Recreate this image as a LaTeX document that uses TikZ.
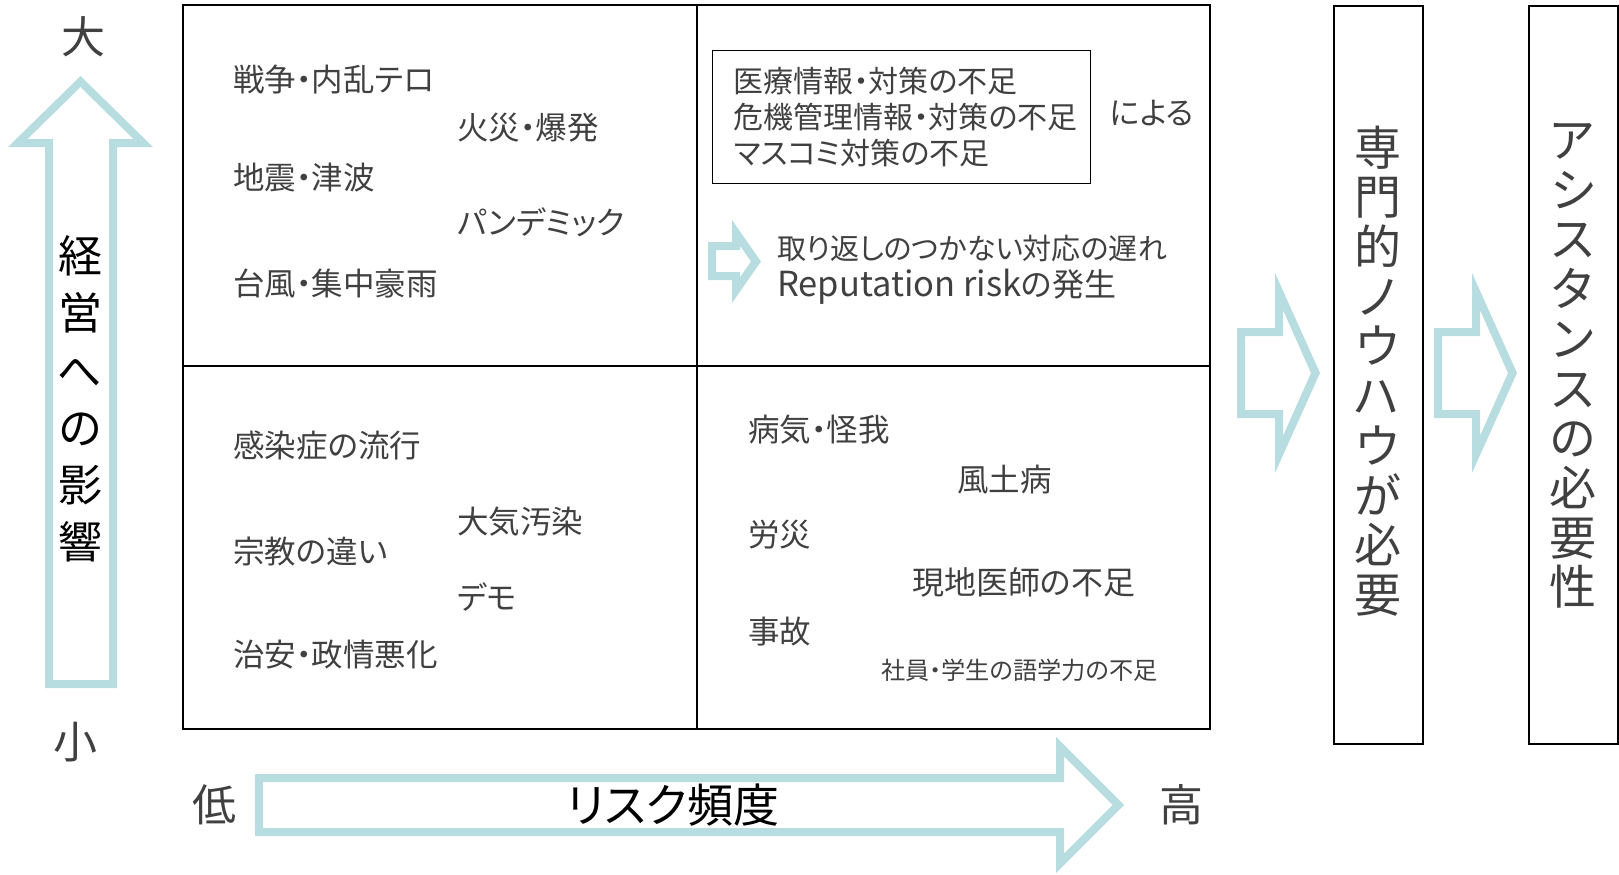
\documentclass[tikz,border=0pt]{standalone}
\usepackage{fontspec}
\setmainfont{Noto Sans CJK JP}[RawFeature=+palt]
\definecolor{txtgray}{HTML}{404040}
\definecolor{arrowblue}{HTML}{B7DDE0}
\begin{document}
\begin{tikzpicture}[x=1pt,y=-1pt,
  every node/.style={inner sep=0pt},
  item/.style={anchor=west,text=txtgray,font=\fontsize{31.5}{36}\selectfont},
  smallitem/.style={anchor=west,text=txtgray,font=\fontsize{24.2}{28}\selectfont},
  axislbl/.style={text=txtgray,font=\fontsize{44}{50}\selectfont},
  blockarrow/.style={fill=arrowblue,even odd rule},
  gridline/.style={line width=2.5pt},
  vstack/.style={align=center,text=txtgray,font=\fontsize{47}{49.7}\selectfont},
  tallbox/.style={draw,line width=1.8pt,minimum width=89pt,minimum height=738pt,anchor=north west}]
\useasboundingbox (0,0) rectangle (1619,875);

% vertical axis: impact on the business (outline arrow = outer minus inner outline)
\node[axislbl] (big) at (83,37) {大};
\node[axislbl] (small) at (75,742) {小};
\fill[blockarrow]
  (45,688) -- (45,147) -- (8,147) -- (80.5,76) -- (153,147) -- (117,147) -- (117,688) -- cycle
  (53,680) -- (53,139) -- (27.6,139) -- (80.5,87) -- (133.4,139) -- (109,139) -- (109,680) -- cycle;
\node[align=center,text=black,font=\fontsize{44}{57.2}\selectfont] (impact) at (80,399)
  {経\\営\\へ\\の\\影\\響};

% horizontal axis: risk frequency
\node[axislbl] (low) at (214,805) {低};
\node[axislbl] (high) at (1181,805) {高};
\fill[blockarrow]
  (255,774) -- (1056,774) -- (1056,737) -- (1124,805) -- (1056,873) -- (1056,836) -- (255,836) -- cycle
  (263,782) -- (1064,782) -- (1064,756.4) -- (1112.6,805) -- (1064,853.6) -- (1064,828) -- (263,828) -- cycle;
\node[text=black,font=\fontsize{46}{50}\selectfont] (freq) at (673,805) {リスク頻度};

% four-quadrant grid
\draw[gridline] (183,5) rectangle (1210,729);
\draw[gridline] (697,5) -- (697,729);
\draw[gridline] (183,366) -- (1210,366);

% upper left: high impact, low frequency
\node[item] (war) at (233,80) {戦争・内乱テロ};
\node[item] (fire) at (457,128) {火災・爆発};
\node[item] (quake) at (233,178) {地震・津波};
\node[item] (pandemic) at (457,222) {パンデミック};
\node[item] (storm) at (233,283) {台風・集中豪雨};

% lower left
\node[item] (infect) at (233,445) {感染症の流行};
\node[item] (air) at (457,522) {大気汚染};
\node[item] (religion) at (233,552) {宗教の違い};
\node[item] (demo) at (457,597) {デモ};
\node[item] (security) at (233,655) {治安・政情悪化};

% upper right
\node[draw,line width=1.4pt,anchor=north west,inner xsep=21pt,inner ysep=0pt,
  minimum height=133pt,text width=336pt,align=left,text=txtgray,
  font=\fontsize{30}{36}\selectfont] (cause) at (712,50)
  {医療情報・対策の不足\\危機管理情報・対策の不足\\マスコミ対策の不足};
\node[item,font=\fontsize{31}{36}\selectfont] (by) at (1110,113) {による};
\fill[blockarrow]
  (708,242) -- (732,242) -- (732,220) -- (761,261.5) -- (732,303) -- (732,280) -- (708,280) -- cycle
  (716,250) -- (740,250) -- (740,245.7) -- (751,261.5) -- (740,277.3) -- (740,272) -- (716,272) -- cycle;
\node[item,font=\fontsize{29}{32}\selectfont] (delay) at (777,248) {取り返しのつかない対応の遅れ};
\node[item,font=\fontsize{32}{36}\selectfont] (reput) at (777,287)
  {{\fontsize{34.5}{36}\selectfont Reputation risk}の発生};

% lower right
\node[item] (ill) at (748,430) {病気・怪我};
\node[item] (endemic) at (957,480) {風土病};
\node[item] (labor) at (748,535) {労災};
\node[item,font=\fontsize{32}{36}\selectfont] (doctor) at (912,582) {現地医師の不足};
\node[item] (accident) at (748,632) {事故};
\node[smallitem] (lang) at (881,670) {社員・学生の語学力の不足};

% consequences
\fill[blockarrow]
  (1237,328) -- (1275,328) -- (1275,273) -- (1320,373) -- (1275,473) -- (1275,418) -- (1237,418) -- cycle
  (1245,336) -- (1283,336) -- (1283,310) -- (1311,373) -- (1283,436) -- (1283,410) -- (1245,410) -- cycle;
\node[tallbox] (knowhow) at (1333,5) {};
\node[vstack] (knowhowtxt) at (1377.5,371) {専\\門\\的\\ノ\\ウ\\ハ\\ウ\\が\\必\\要};
\fill[blockarrow]
  (1434,328) -- (1472,328) -- (1472,273) -- (1517,373) -- (1472,473) -- (1472,418) -- (1434,418) -- cycle
  (1442,336) -- (1480,336) -- (1480,310) -- (1508,373) -- (1480,436) -- (1480,410) -- (1442,410) -- cycle;
\node[tallbox] (assist) at (1528,5) {};
\node[vstack] (assisttxt) at (1572.5,366) {ア\\シ\\ス\\タ\\ン\\ス\\の\\必\\要\\性};
\end{tikzpicture}
\end{document}
